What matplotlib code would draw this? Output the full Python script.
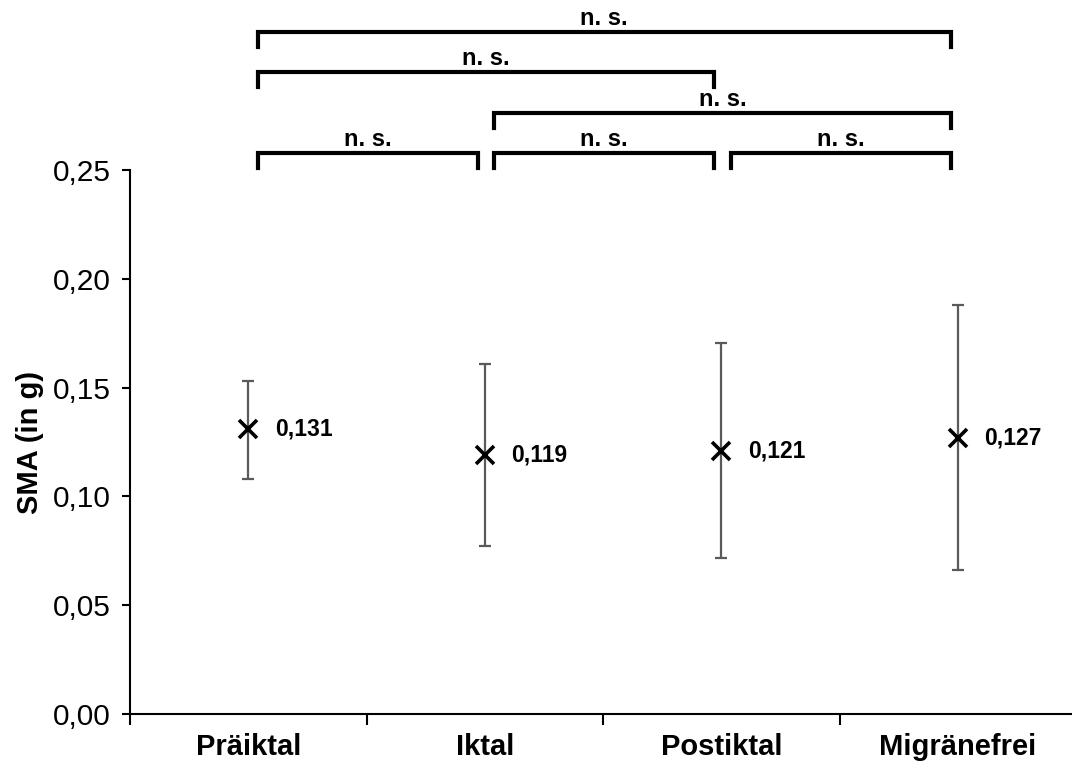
"""SMA per migraine phase: means with error bars and pairwise n. s. brackets."""
import matplotlib
matplotlib.use("Agg")
import matplotlib.pyplot as plt
from matplotlib.ticker import FixedLocator, FuncFormatter

plt.rcParams["font.family"] = ["Liberation Sans", "DejaVu Sans"]

phases = ["Präiktal", "Iktal", "Postiktal", "Migränefrei"]
sma_mean = [0.131, 0.119, 0.121, 0.127]
err_low = [0.108, 0.077, 0.0715, 0.066]
err_high = [0.153, 0.161, 0.1705, 0.188]

# pairwise comparisons: (left group, right group, bracket level)
pairs = [(0, 1, 0), (1, 2, 0), (2, 3, 0), (1, 3, 1), (0, 2, 2), (0, 3, 3)]
pair_labels = ["n. s."] * len(pairs)

fig = plt.figure(figsize=(10.72, 7.66), dpi=100)
ax = fig.add_axes([0.1213, 0.0679, 0.8825, 0.7102])

xs = list(range(len(phases)))
lower = [m - lo for m, lo in zip(sma_mean, err_low)]
upper = [hi - m for m, hi in zip(sma_mean, err_high)]
ax.errorbar(xs, sma_mean, yerr=[lower, upper], fmt="none", ecolor="#5a5a5a",
            elinewidth=1.6, capsize=4.5, capthick=1.6, zorder=2)
ax.plot(xs, sma_mean, "x", color="black", ms=13, mew=2.6, zorder=3)
for x, m in zip(xs, sma_mean):
    ax.annotate(f"{m:.3f}".replace(".", ","), (x, m), xytext=(19, 0),
                textcoords="offset points", ha="left", va="center",
                fontsize=16.5, fontweight="bold")

ax.set_xlim(-0.5, len(phases) - 0.5)
ax.set_ylim(0, 0.25)
ax.yaxis.set_major_locator(FixedLocator([0, 0.05, 0.10, 0.15, 0.20, 0.25]))
ax.yaxis.set_major_formatter(FuncFormatter(lambda v, _: f"{v:.2f}".replace(".", ",")))
ax.set_xticks(xs)
ax.set_xticklabels(phases, fontsize=21, fontweight="bold")
ax.set_xticks([i - 0.5 for i in range(len(phases) + 1)], minor=True)
ax.tick_params(axis="x", which="major", length=0, pad=14)
ax.tick_params(axis="x", which="minor", length=8, width=1.5, direction="out")
ax.tick_params(axis="y", labelsize=21.5, length=6, width=1.5, pad=8)
for side in ("top", "right"):
    ax.spines[side].set_visible(False)
for side in ("left", "bottom"):
    ax.spines[side].set_linewidth(1.5)
ax.set_ylabel("SMA (in g)", fontsize=21, fontweight="bold", labelpad=6)

# significance brackets above the plot area
base, step, drop = 0.2578, 0.0186, 0.0069
for (a, b, lvl), txt in zip(pairs, pair_labels):
    y = base + lvl * step
    x0, x1 = a + 0.04, b - 0.03
    ax.plot([x0, x0, x1, x1], [y - drop, y, y, y - drop], color="black",
            lw=3, solid_joinstyle="miter", clip_on=False)
    ax.text((x0 + x1) / 2, y + 0.0008, txt, ha="center", va="bottom",
            fontsize=17, fontweight="bold")

fig.savefig("out.png", dpi=100)
